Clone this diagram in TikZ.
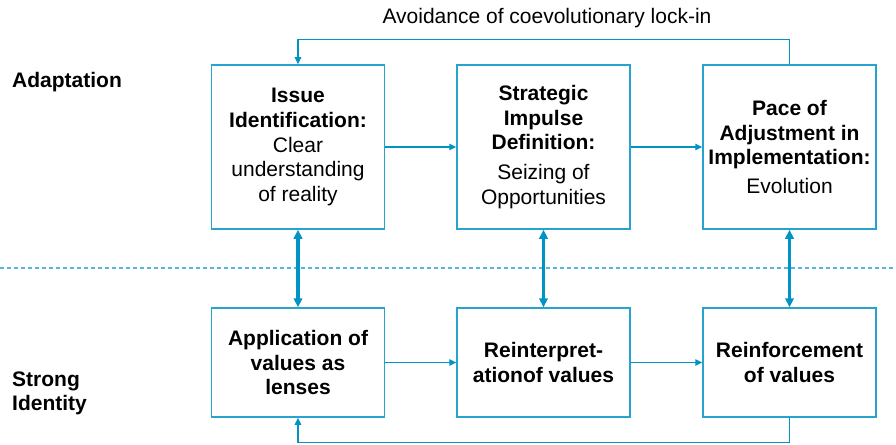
\documentclass[tikz,border=0pt]{standalone}
\usepackage{fontspec}
\setmainfont{Liberation Sans}
\usetikzlibrary{arrows.meta}
\definecolor{flow}{RGB}{0,148,196}
\definecolor{boxline}{RGB}{38,163,206}
\definecolor{divider}{RGB}{80,184,220}

\begin{document}
\begin{tikzpicture}[x=1pt,y=-1pt,
  every node/.style={font=\fontsize{21}{24.8}\selectfont},
  stage/.style={draw=boxline,line width=1.5pt,minimum width=173pt,inner sep=0pt,align=center,text=black},
  upper/.style={stage,minimum height=164pt},
  lower/.style={stage,minimum height=109pt,font=\fontsize{21}{24.6}\selectfont\bfseries},
  rowlabel/.style={anchor=base west,inner sep=0pt,align=left,font=\fontsize{21}{23.5}\selectfont\bfseries},
  link/.style={draw=flow,line width=1.3pt,-{Triangle[length=7pt,width=6.5pt]}},
  tie/.style={draw=flow,line width=3.2pt,{Triangle[length=9pt,width=8.5pt]}-{Triangle[length=9pt,width=8.5pt]}},
  divline/.style={draw=divider,line width=1.3pt,dash pattern=on 4pt off 3pt},
]
\useasboundingbox (0,0) rectangle (896,444);

% headings
\node[anchor=base,inner sep=0pt] (lockin) at (547,24) {Avoidance of coevolutionary lock-in};
\node[rowlabel] (adapt) at (12,87) {Adaptation};
\node[rowlabel] (identity) at (12,410) {Strong\\Identity};

% separator between the two levels
\coordinate (dl) at (0,268);
\coordinate (dr) at (896,268);
\draw[divline] (dl) -- (dr);

% adaptation row
\node[upper] (issue) at (298,147)
  {\textbf{Issue}\\\textbf{Identification:}\\Clear\\understanding\\of reality};
\node[upper] (impulse) at (543.5,147)
  {\textbf{Strategic}\\\textbf{Impulse}\\\textbf{Definition:}\\[5pt]Seizing of\\Opportunities};
\node[upper] (pace) at (789.5,147)
  {\textbf{Pace of}\\\textbf{Adjustment in}\\\textbf{Implementation:}\\[4pt]Evolution};

% identity row
\node[lower] (lenses) at (298,362.5) {Application of\\values as\\lenses};
\node[lower] (reinterp) at (543.5,362.5) {Reinterpret-\\ationof values};
\node[lower] (reinforce) at (789.5,362.5) {Reinforcement\\of values};

% flow along each row
\draw[link] (issue) -- (impulse);
\draw[link] (impulse) -- (pace);
\draw[link] (lenses) -- (reinterp);
\draw[link] (reinterp) -- (reinforce);

% feedback loops
\draw[link] (pace.north) -- ++(0,-25) -| (issue.north);
\draw[link] (reinforce.south) -- ++(0,25) -| (lenses.south);

% coupling between levels
\draw[tie] (issue) -- (lenses);
\draw[tie] (impulse) -- (reinterp);
\draw[tie] (pace) -- (reinforce);
\end{tikzpicture}
\end{document}
